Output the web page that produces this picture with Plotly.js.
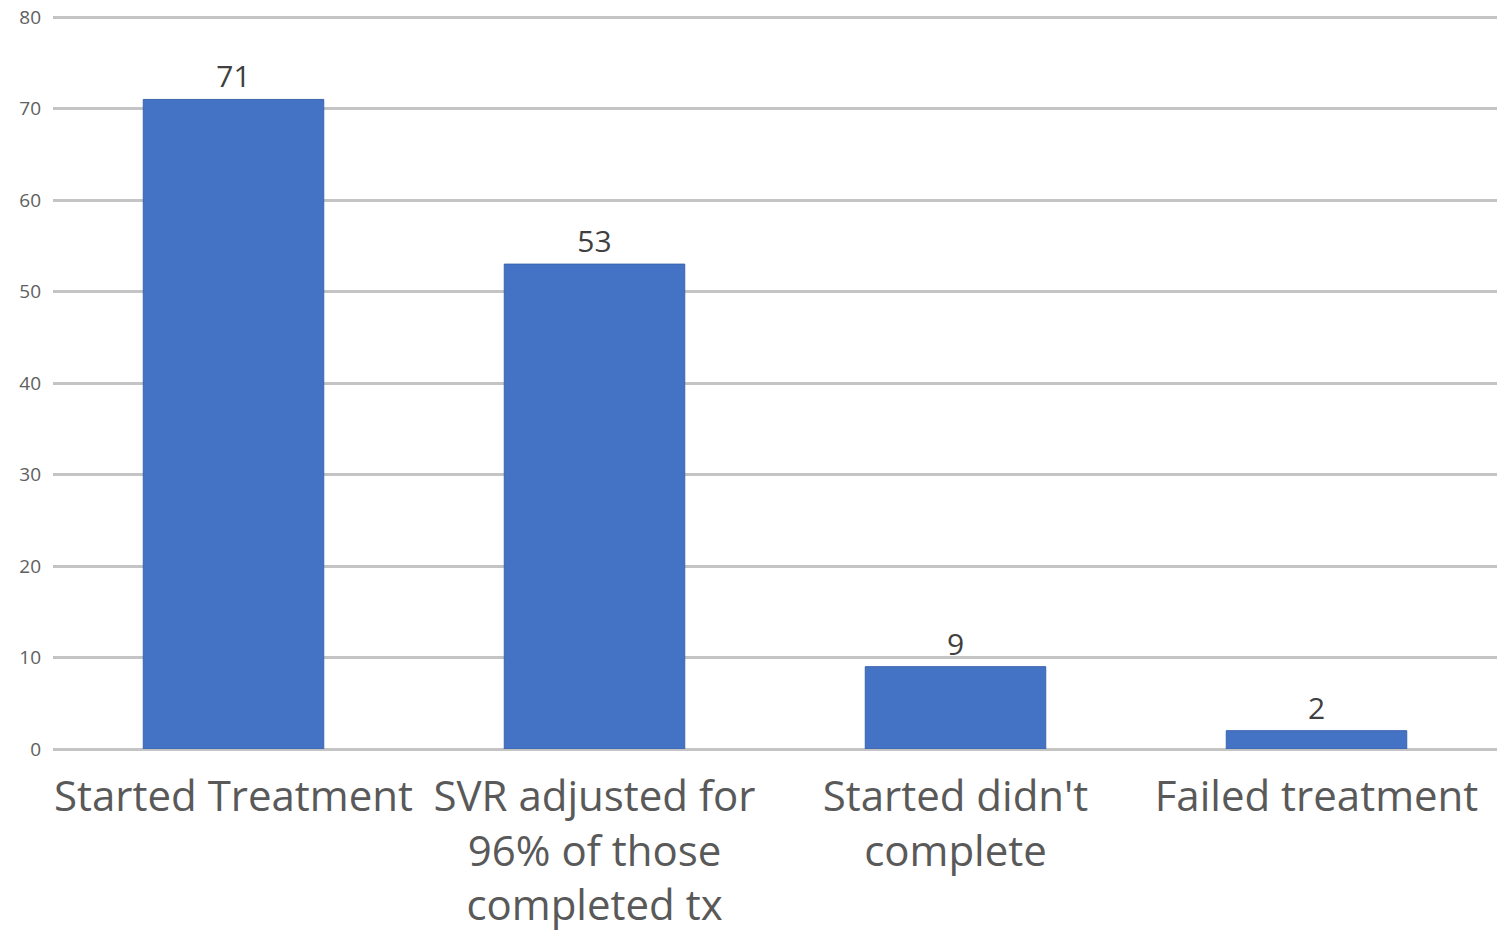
<!DOCTYPE html>
<html>
<head>
<meta charset="utf-8">
<script src="https://cdn.plot.ly/plotly-3.0.1.min.js"></script>
<style>
  html, body { margin: 0; padding: 0; background: #ffffff; }
  #chart { width: 1503px; height: 934px; }
</style>
</head>
<body>
<div id="chart"></div>
<script>
// Treatment outcome counts
const categories = [
  "Started Treatment",
  "SVR adjusted for<br>96% of those<br>completed tx",
  "Started didn't<br>complete",
  "Failed treatment"
];
const counts = [71, 53, 9, 2];
const yTicks = [0, 10, 20, 30, 40, 50, 60, 70, 80];

const trace = {
  type: "bar",
  x: categories,
  y: counts,
  text: counts.map(String),
  textposition: "outside",
  cliponaxis: false,
  textfont: { family: "Open Sans, sans-serif", size: 30, color: "#404040" },
  marker: { color: "#4472C4", line: { color: "#3b64ad", width: 1 } },
  hoverinfo: "skip"
};

const layout = {
  width: 1503,
  height: 934,
  margin: { l: 53, r: 6, t: 16, b: 185 },
  paper_bgcolor: "#ffffff",
  plot_bgcolor: "#ffffff",
  bargap: 0.5,
  showlegend: false,
  font: { family: "Open Sans, sans-serif", color: "#595959" },
  xaxis: {
    type: "category",
    tickfont: { family: "Open Sans, sans-serif", size: 42, color: "#595959" },
    ticks: "",
    showline: false,
    showgrid: false,
    ticklabelstandoff: 19,
    tickangle: 0,
    automargin: false
  },
  yaxis: {
    range: [0, 80.12],
    tickvals: yTicks,
    ticktext: yTicks.map(String),
    tickfont: { family: "Open Sans, sans-serif", size: 19, color: "#606060" },
    showgrid: true,
    gridcolor: "#c4c4c4",
    gridwidth: 3,
    zeroline: true,
    zerolinecolor: "#c4c4c4",
    zerolinewidth: 3,
    showline: false,
    ticks: "",
    ticklabelstandoff: 11,
    automargin: false
  }
};

Plotly.newPlot("chart", [trace], layout, { displayModeBar: false, staticPlot: true });
</script>
</body>
</html>
